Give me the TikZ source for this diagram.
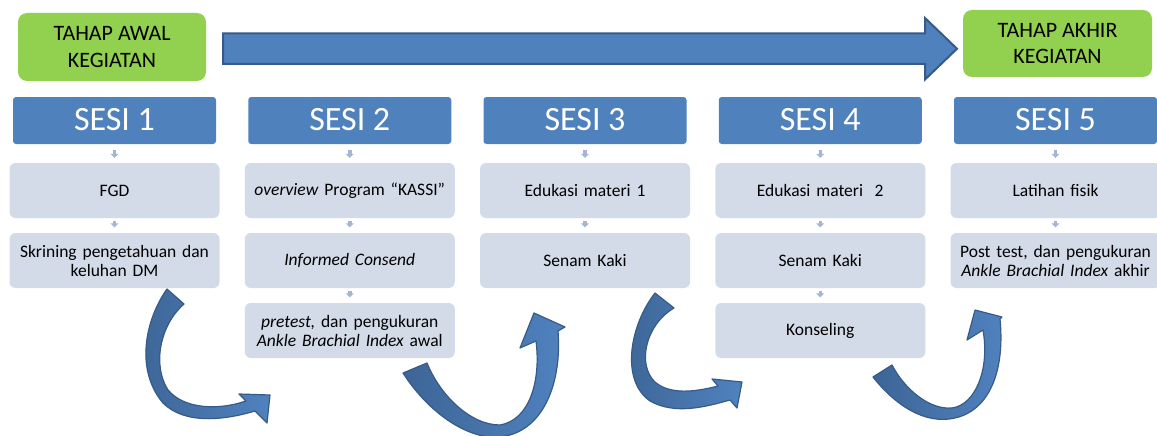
\documentclass[tikz,border=0pt]{standalone}
\usepackage{fontspec}
\setmainfont{Carlito}
\usetikzlibrary{arrows.meta}
\definecolor{hdrblue}{HTML}{4F81BD}
\definecolor{boxfill}{HTML}{D3DBE8}
\definecolor{greenfill}{HTML}{92D050}
\definecolor{smallarrc}{HTML}{A6B5D3}
\definecolor{arrdark}{HTML}{3D6596}
\definecolor{arrlight}{HTML}{5082BF}
\definecolor{arrline}{HTML}{375B88}
\begin{document}
\begin{tikzpicture}[x=1pt,y=-1pt,
  hdr/.style={fill=hdrblue, rounded corners=3pt, minimum width=203pt, minimum height=47pt, inner sep=0pt, text=white, font=\fontsize{34}{40}\selectfont},
  sbox/.style={fill=boxfill, rounded corners=6pt, minimum width=210pt, minimum height=55pt, inner sep=0pt, text width=206pt, align=center, font=\fontsize{17.5}{19}\selectfont},
  gbox/.style={fill=greenfill, rounded corners=9pt, minimum width=188pt, minimum height=68pt, inner sep=0pt, align=center, font=\fontsize{22}{26.5}\selectfont},
  smallarr/.style={draw=smallarrc, line width=3.5pt, -{Triangle[width=8pt,length=4pt]}},
  curvearr/.style={draw=arrline, line width=1.2pt, line join=round, left color=arrdark, right color=arrlight},
  bigarr/.style={draw=arrline, line width=2pt, fill=hdrblue}
]
\useasboundingbox (0,0) rectangle (1157,436);
\clip (0,0) rectangle (1157,436);

% top stage boxes
\node[gbox] (g1) at (112,47) {TAHAP AWAL\\KEGIATAN};
\node[gbox, minimum width=189pt, minimum height=67pt] (g2) at (1057.5,43.5) {TAHAP AKHIR\\KEGIATAN};

% big arrow
\path[bigarr] (223,33.5) -- (925,33.5) -- (925,18) -- (957,48.75) -- (925,79.5) -- (925,64) -- (223,64) -- cycle;

% headers
\node[hdr] (h1) at (114.5,120.5) {\raisebox{2pt}{SESI 1}};
\node[hdr] (h2) at (349.75,120.5) {\raisebox{2pt}{SESI 2}};
\node[hdr] (h3) at (585,120.5) {\raisebox{2pt}{SESI 3}};
\node[hdr] (h4) at (820.25,120.5) {\raisebox{2pt}{SESI 4}};
\node[hdr] (h5) at (1055.5,120.5) {\raisebox{2pt}{SESI 5}};

% column 1
\node[sbox] (b11) at (114.5,190.5) {FGD};
\node[sbox] (b12) at (114.5,260.5) {Skrining pengetahuan dan\\keluhan DM};
% column 2
\node[sbox] (b21) at (349.75,190.5) {\textit{overview} Program “KASSI”};
\node[sbox] (b22) at (349.75,260.5) {\textit{Informed Consend}};
\node[sbox] (b23) at (349.75,330.5) {\textit{pretest,} dan pengukuran\\\textit{Ankle Brachial Index} awal};
% column 3
\node[sbox] (b31) at (585,190.5) {Edukasi materi 1};
\node[sbox] (b32) at (585,260.5) {Senam Kaki};
% column 4
\node[sbox] (b41) at (820.25,190.5) {Edukasi materi~~2};
\node[sbox] (b42) at (820.25,260.5) {Senam Kaki};
\node[sbox] (b43) at (820.25,330.5) {Konseling};
% column 5
\node[sbox] (b51) at (1055.5,190.5) {Latihan fisik};
\node[sbox] (b52) at (1055.5,260.5) {Post test, dan pengukuran\\\textit{Ankle Brachial Index} akhir};

% small down arrows
\foreach \c in {1,2,3,4,5}{
  \draw[smallarr] ([yshift=-6pt]h\c.south) -- ([yshift=5pt]b\c1.north);
  \draw[smallarr] ([yshift=-3pt]b\c1.south) -- ([yshift=5.5pt]b\c2.north);
}
\draw[smallarr] ([yshift=-3pt]b22.south) -- ([yshift=5.5pt]b23.north);
\draw[smallarr] ([yshift=-3pt]b42.south) -- ([yshift=5.5pt]b43.north);

% curved arrows
\path[curvearr] (184,304) -- (167,289)
  .. controls (145,320) and (135,370) .. (163,403)
  .. controls (185,425) and (225,420) .. (255,411)
  -- (267,423) -- (270,395) -- (239,394) -- (246,401)
  .. controls (220,410) and (185,410) .. (168,390)
  .. controls (152,365) and (160,325) .. (184,304) -- cycle;

\path[curvearr] (427,363) -- (403,373)
  .. controls (430,415) and (470,440) .. (500,437)
  .. controls (545,432) and (562,380) .. (558,331)
  -- (565,327) -- (534,313) -- (520,348) -- (536,341)
  .. controls (541,380) and (530,420) .. (500,425)
  .. controls (470,425) and (440,395) .. (427,363) -- cycle;

\path[curvearr] (674,308) -- (655,293)
  .. controls (630,325) and (620,380) .. (650,401)
  .. controls (675,415) and (705,407) .. (730,400)
  -- (737,408) -- (742,382) -- (712,379) -- (718,386)
  .. controls (695,392) and (670,395) .. (655,382)
  .. controls (637,365) and (645,325) .. (674,308) -- cycle;

\path[curvearr] (892,365) -- (873,377)
  .. controls (895,405) and (925,425) .. (955,418)
  .. controls (990,410) and (1005,370) .. (1000,319)
  -- (1002,317) -- (975,310) -- (967,340) -- (983,330)
  .. controls (990,370) and (975,405) .. (952,408)
  .. controls (930,410) and (905,390) .. (892,365) -- cycle;
\end{tikzpicture}
\end{document}
